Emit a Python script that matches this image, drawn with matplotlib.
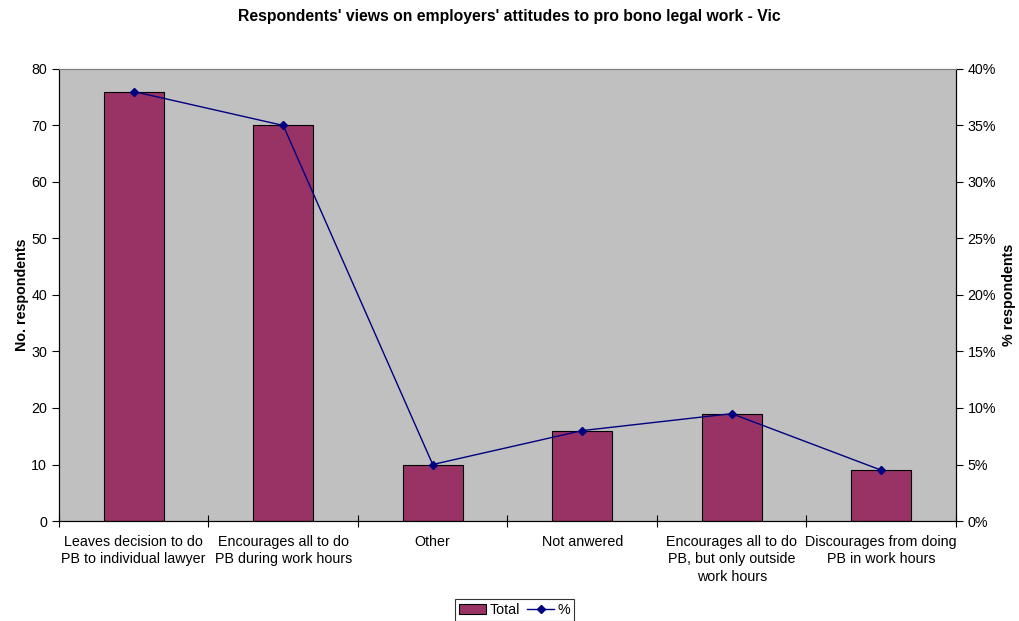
import matplotlib.pyplot as plt
import matplotlib.ticker as mtick

plt.rcParams["font.family"] = ["Liberation Sans", "DejaVu Sans"]

categories = [
    "Leaves decision to do\nPB to individual lawyer",
    "Encourages all to do\nPB during work hours",
    "Other",
    "Not anwered",
    "Encourages all to do\nPB, but only outside\nwork hours",
    "Discourages from doing\nPB in work hours",
]
totals = [76, 70, 10, 16, 19, 9]
percents = [0.38, 0.35, 0.05, 0.08, 0.095, 0.045]

fig = plt.figure(figsize=(10.19, 6.21), dpi=100)
ax = fig.add_axes([0.0579, 0.161, 0.8802, 0.728])
ax.set_facecolor("#C0C0C0")

x = list(range(len(categories)))
bars = ax.bar(x, totals, width=0.4, color="#993366", edgecolor="black",
              linewidth=0.8, label="Total", zorder=2)
ax.set_xlim(-0.5, len(categories) - 0.5)
ax.set_ylim(0, 80)
ax.set_yticks(range(0, 81, 10))
ax.tick_params(axis="y", labelsize=10.3, direction="out", length=5)

# boundaries as major ticks, labels at category centres
ax.set_xticks([i - 0.5 for i in range(len(categories) + 1)])
ax.set_xticklabels([])
ax.set_xticks(x, minor=True)
ax.set_xticklabels(categories, minor=True, fontsize=10.3, linespacing=1.3)
ax.tick_params(axis="x", which="major", direction="inout", length=8)
ax.tick_params(axis="x", which="minor", length=0, pad=10)

ax.set_ylabel("No. respondents", fontsize=10.3, fontweight="bold", labelpad=2)

ax2 = ax.twinx()
line, = ax2.plot(x, percents, color="#000080", marker="D", markersize=4.5,
                 linewidth=1.0, label="%", zorder=3)
ax2.set_ylim(0, 0.4)
ax2.set_yticks([i * 0.05 for i in range(9)])
ax2.yaxis.set_major_formatter(mtick.PercentFormatter(1.0, decimals=0))
ax2.tick_params(axis="y", labelsize=10.3, direction="out", length=5)
ax2.set_ylabel("% respondents", fontsize=10.3, fontweight="bold", labelpad=4)

for a in (ax, ax2):
    a.spines["top"].set_color("#808080")
    a.spines["left"].set_color("black")
    a.spines["right"].set_color("black")
    a.spines["bottom"].set_color("black")

fig.suptitle("Respondents' views on employers' attitudes to pro bono legal work - Vic",
             fontsize=11.3, fontweight="bold", y=0.985)

leg = fig.legend([bars, line], ["Total", "%"], loc="lower center",
                 bbox_to_anchor=(0.505, -0.004), ncol=2, fontsize=10.3,
                 frameon=True, fancybox=False, edgecolor="black",
                 handlelength=1.9, handletextpad=0.25, columnspacing=0.5,
                 borderpad=0.25, borderaxespad=0.2)
leg.get_frame().set_linewidth(0.8)

fig.savefig("out.png", dpi=100)
